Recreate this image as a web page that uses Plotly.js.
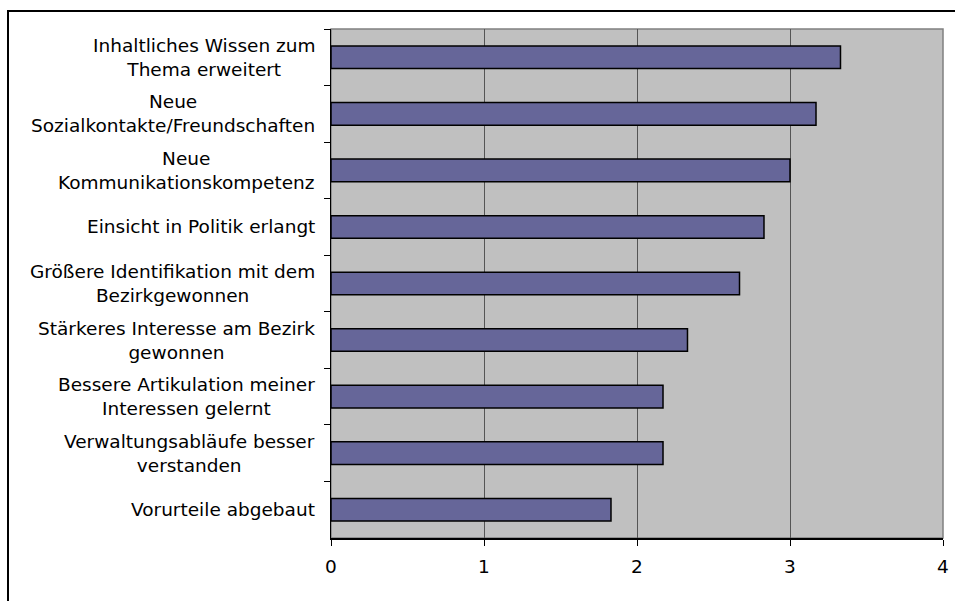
<!DOCTYPE html>
<html>
<head>
<meta charset="utf-8">
<script src="https://cdn.plot.ly/plotly-3.0.1.min.js"></script>
<style>
html,body{margin:0;padding:0;background:#fff;}
#chart{width:955px;height:601px;}
</style>
</head>
<body>
<div id="chart"></div>
<script>
const categories = [
  "Inhaltliches Wissen zum<br>Thema erweitert",
  "Neue<br>Sozialkontakte/Freundschaften",
  "Neue<br>Kommunikationskompetenz",
  "Einsicht in Politik erlangt",
  "Größere Identifikation mit dem<br>Bezirkgewonnen",
  "Stärkeres Interesse am Bezirk<br>gewonnen",
  "Bessere Artikulation meiner<br>Interessen gelernt",
  "Verwaltungsabläufe besser<br>verstanden",
  "Vorurteile abgebaut"
];
const values = [3.33, 3.17, 3.0, 2.83, 2.67, 2.33, 2.17, 2.17, 1.83];
const xTicks = [0, 1, 2, 3, 4];

const W = 955, H = 601;
const ml = 331, mr = 12, mt = 29, mb = 63;
const pw = W - ml - mr, ph = H - mt - mb;
const px = v => (v - ml) / pw;
const py = v => (H - mb - v) / ph;

const labelFont = {family: "DejaVu Sans, Verdana, sans-serif", size: 18.5, color: "#000"};

const annotations = categories.map(c => ({
  xref: "paper", yref: "y", x: px(317), y: c,
  xanchor: "right", yanchor: "middle", align: "center",
  text: c, showarrow: false, font: labelFont
}));

const trace = {
  type: "bar", orientation: "h",
  x: values, y: categories,
  marker: {color: "#666699", line: {color: "#000", width: 1.5}},
  hoverinfo: "x+y"
};

const layout = {
  width: W, height: H,
  margin: {l: ml, r: mr, t: mt, b: mb, pad: 0},
  paper_bgcolor: "#fff", plot_bgcolor: "#C0C0C0",
  showlegend: false, bargap: 0.6,
  font: labelFont,
  xaxis: {
    range: [0, 4], tickvals: xTicks, ticktext: xTicks.map(String),
    showgrid: true, gridcolor: "#555555", gridwidth: 1,
    zeroline: false, showline: true, linecolor: "#000", linewidth: 1.5,
    ticks: "outside", ticklen: 6, tickcolor: "#000", tickwidth: 1,
    ticklabelstandoff: 5,
    tickfont: labelFont, fixedrange: true
  },
  yaxis: {
    type: "category", autorange: "reversed",
    showticklabels: false, showgrid: false, zeroline: false,
    showline: true, linecolor: "#000", linewidth: 1.5,
    ticks: "outside", tickson: "boundaries", ticklen: 6, tickcolor: "#000", tickwidth: 1,
    fixedrange: true
  },
  annotations: annotations,
  shapes: [
    {type: "rect", xref: "paper", yref: "paper", x0: 0, x1: 1, y0: 0, y1: 1,
     line: {color: "#808080", width: 1.5}, fillcolor: "rgba(0,0,0,0)", layer: "below"},
    {type: "rect", xref: "paper", yref: "paper", x0: px(8), x1: px(1000), y0: py(11), y1: py(650),
     line: {color: "#000", width: 2}, fillcolor: "rgba(0,0,0,0)", layer: "above"}
  ]
};

Plotly.newPlot("chart", [trace], layout, {displayModeBar: false, staticPlot: true});
</script>
</body>
</html>
